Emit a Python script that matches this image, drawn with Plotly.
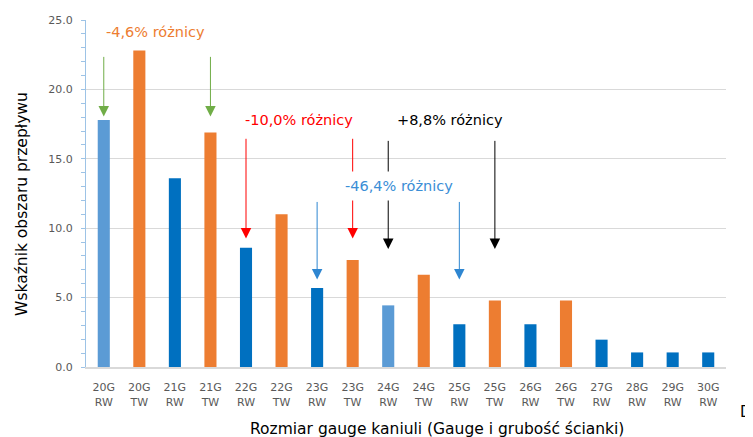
import plotly.graph_objects as go

gauges = ["20G", "20G", "21G", "21G", "22G", "22G", "23G", "23G", "24G", "24G",
          "25G", "25G", "26G", "26G", "27G", "28G", "29G", "30G"]
walls = ["RW", "TW", "RW", "TW", "RW", "TW", "RW", "TW", "RW", "TW",
         "RW", "TW", "RW", "TW", "RW", "RW", "RW", "RW"]
values = [17.8, 22.8, 13.6, 16.9, 8.6, 11.0, 5.7, 7.7, 4.44, 6.65,
          3.08, 4.8, 3.08, 4.8, 1.97, 1.05, 1.05, 1.05]
bar_colors = ["#5B9BD5", "#ED7D31", "#0070C0", "#ED7D31", "#0070C0", "#ED7D31",
              "#0070C0", "#ED7D31", "#5B9BD5", "#ED7D31", "#0070C0", "#ED7D31",
              "#0070C0", "#ED7D31", "#0070C0", "#0070C0", "#0070C0", "#0070C0"]

categories = [f"{g}<br>{w}" for g, w in zip(gauges, walls)]

# comparison groups: (label, arrow color, text color, from idx, to idx, tail y, tip y, text x, text y)
comparisons = [
    ("-4,6% różnicy", "#70AD47", "#ED7D31", 0, 3, 22.45, 18.05, 1.46, 24.1),
    ("-10,0% różnicy", "#FF0000", "#FF0000", 4, 7, 16.55, 9.25, 5.5, 17.77),
    ("+8,8% różnicy", "#000000", "#000000", 8, 11, 16.4, 8.5, 9.73, 17.77),
    ("-46,4% różnicy", "#2E86D1", "#3B8ED6", 6, 10, 12.0, 6.3, 8.29, 13.02),
]

fig = go.Figure()
fig.add_trace(go.Bar(
    x=categories, y=values, marker=dict(color=bar_colors, line=dict(width=0)),
    width=0.34, showlegend=False, hoverinfo="skip",
))

annotations = []
texts = []
for label, acol, tcol, i0, i1, tail, tip, tx, ty in comparisons:
    for idx in (i0, i1):
        annotations.append(dict(
            x=categories[idx], y=tip, ax=categories[idx], ay=tail,
            xref="x", yref="y", axref="x", ayref="y",
            text="", showarrow=True, arrowhead=2, arrowsize=2.1,
            arrowwidth=1, arrowcolor=acol, standoff=0, startstandoff=0,
        ))
    boxed = label.startswith("-46")
    texts.append(dict(
        x=tx, y=ty, xref="x", yref="y", text=label, showarrow=False,
        font=dict(family="DejaVu Sans", size=14.5, color=tcol),
        bgcolor="white" if boxed else "rgba(0,0,0,0)",
        borderpad=6 if boxed else 2,
    ))
annotations += texts
annotations.append(dict(
    x=1.021, y=-0.13, xref="paper", yref="paper", xanchor="left", yanchor="middle",
    text="D", showarrow=False, borderpad=0,
    font=dict(family="DejaVu Sans", size=15, color="#000000"),
))
annotations.append(dict(
    x=0.548, y=-0.18, xref="paper", yref="paper", xanchor="center", yanchor="middle",
    text="Rozmiar gauge kaniuli (Gauge i grubość ścianki)", showarrow=False,
    font=dict(family="DejaVu Sans", size=15.5, color="#000000"),
))
annotations.append(dict(
    x=-0.1, y=0.47, xref="paper", yref="paper", xanchor="center", yanchor="middle",
    text="Wskaźnik obszaru przepływu", showarrow=False, textangle=-90,
    font=dict(family="DejaVu Sans", size=15.5, color="#000000"),
))

# page body has an 8px default margin; the figure is sized to fit the window
fig.update_layout(
    width=745, height=429,
    margin=dict(l=78, r=27, t=12, b=70, autoexpand=False),
    paper_bgcolor="white", plot_bgcolor="white",
    font=dict(family="DejaVu Sans", color="#595959"),
    annotations=annotations,
)
fig.update_xaxes(
    type="category", range=[-0.5, 17.5], automargin=False,
    tickfont=dict(size=11, color="#595959"), ticklabelstandoff=9,
    showline=True, linecolor="#D9D9D9", linewidth=2,
    ticks="", showgrid=False,
)
fig.update_yaxes(
    range=[0, 25], dtick=5, tickformat=".1f", automargin=False,
    tickfont=dict(size=11, color="#595959"), ticklabelstandoff=6,
    showgrid=True, gridcolor="#D9D9D9", gridwidth=1,
    showline=True, linecolor="#9DC3E6", linewidth=1,
    ticks="outside", ticklen=4, tickcolor="#9DC3E6",
    minor=dict(ticks="outside", dtick=1, ticklen=4, tickcolor="#9DC3E6", showgrid=False),
    zeroline=False,
)

fig.write_html("out.html")
